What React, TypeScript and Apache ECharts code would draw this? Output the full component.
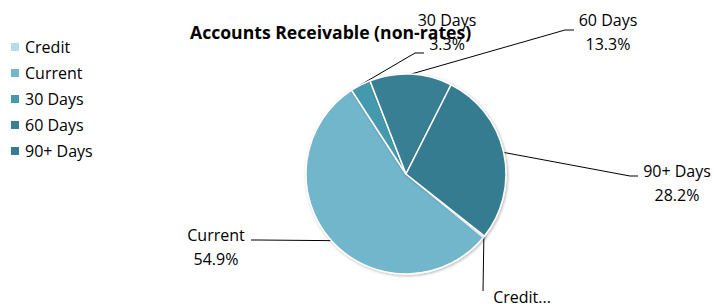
import React, { useEffect, useRef } from "react";
import * as echarts from "echarts";

const categories = ["Credit", "Current", "30 Days", "60 Days", "90+ Days"];
const values = [0.3, 54.9, 3.3, 13.3, 28.2];
const colors = ["#b9dbe6", "#72b6cc", "#4499ae", "#377f94", "#367b90"];
const titleText = "Accounts Receivable (non-rates)";

// label layout (positions only)
const labelPos: { x: number; y: number; bend: number[][] }[] = [
  { x: 522, y: 297, bend: [[483, 291]] },
  { x: 216, y: 247, bend: [[258, 240], [251, 240]] },
  { x: 447, y: 32, bend: [[415, 53], [424, 53]] },
  { x: 608, y: 32, bend: [[565, 30], [574, 30]] },
  { x: 677, y: 183, bend: [[630, 176], [638, 176]] },
];

export default function App() {
  const ref = useRef<HTMLDivElement>(null);
  useEffect(() => {
    if (!ref.current) return;
    const chart = echarts.init(ref.current, null, { renderer: "svg" });
    const font = "'Open Sans', sans-serif";
    chart.setOption({
      animation: false,
      color: colors,
      title: {
        text: titleText,
        left: 190,
        top: 22,
        padding: 0,
        textStyle: { fontFamily: font, fontSize: 17.6, lineHeight: 20, fontWeight: "bold", color: "#000" },
      },
      legend: {
        orient: "vertical",
        left: 9,
        top: 39,
        icon: "rect",
        itemWidth: 10,
        itemHeight: 10,
        itemGap: 10,
        padding: 0,
        data: categories,
        textStyle: { fontFamily: font, fontSize: 16, lineHeight: 16, color: "#000" },
      },
      series: [
        {
          type: "pie",
          center: [406, 174],
          radius: 100,
          startAngle: -38.3,
          clockwise: true,
          percentPrecision: 1,
          avoidLabelOverlap: false,
          itemStyle: {
            borderColor: "#fff",
            borderWidth: 1.5,
            shadowBlur: 3,
            shadowOffsetX: 1,
            shadowOffsetY: 1,
            shadowColor: "rgba(0,0,0,0.3)",
          },
          label: {
            show: true,
            position: "outside",
            fontFamily: font,
            fontSize: 16,
            lineHeight: 24,
            color: "#000",
            align: "center",
            formatter: (p: any) =>
              p.name === "Credit" ? "Credit..." : `${p.name}\n${p.percent}%`,
          },
          labelLine: { show: true, lineStyle: { color: "#000", width: 1 } },
          labelLayout: (params: any) => {
            const lp = labelPos[params.dataIndex];
            const first =
              params.labelLinePoints && params.labelLinePoints[0]
                ? params.labelLinePoints[0]
                : [0, 0];
            return {
              x: lp.x,
              y: lp.y,
              align: "center",
              verticalAlign: "middle",
              labelLinePoints: [first, ...lp.bend],
            };
          },
          data: categories.map((c, i) => ({ name: c, value: values[i] })),
        },
      ],
    });
    return () => chart.dispose();
  }, []);
  return (
    <div
      ref={ref}
      style={{ position: "fixed", left: 0, top: 0, width: 714, height: 304, background: "#fff" }}
    />
  );
}
